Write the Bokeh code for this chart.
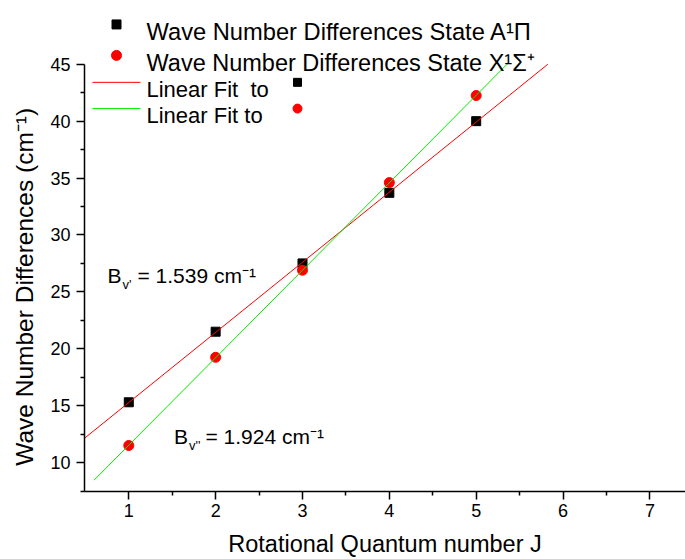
import numpy as np
from bokeh.plotting import figure
from bokeh.models import Range1d, FixedTicker, Label
from bokeh.embed import file_html
from bokeh.resources import INLINE

# ---- data ----
J = [1, 2, 3, 4, 5]
diff_A = [15.3, 21.5, 27.5, 33.7, 40.0]      # A1Pi state (black squares)
diff_X = [11.5, 19.25, 26.9, 34.6, 42.25]    # X1Sigma+ state (red circles)
x_ticks = [1, 2, 3, 4, 5, 6, 7]
y_ticks = [10, 15, 20, 25, 30, 35, 40, 45]

# ---- layout constants ----
W, H = 685, 559
OFF = 0
BL, BB, BT, BR = 84, 67, 0, 0
X0, X1 = 0.49, 7.41
Y0, Y1 = 7.46, 50.6
YAX_TOP = 45
FW, FH = W - BL - BR, H - BB - BT
SX = FW / (X1 - X0)
SY = FH / (Y1 - Y0)
FONT = "Liberation Sans"


def dx(px):  # page pixel -> data x
    return X0 + (px - OFF - BL) / SX


def dy(py):  # page pixel -> data y
    return Y1 - (py - OFF - BT) / SY


p = figure(width=W, height=H, x_range=Range1d(X0, X1), y_range=Range1d(Y0, Y1),
           output_backend="svg", toolbar_location=None,
           min_border_left=BL, min_border_bottom=BB, min_border_top=BT, min_border_right=BR)
p.outline_line_color = None
p.grid.visible = False
p.background_fill_color = "white"

for ax in (p.xaxis[0], p.yaxis[0]):
    ax.axis_line_color = "black"
    ax.axis_line_width = 1.5
    ax.major_tick_line_color = "black"
    ax.major_tick_line_width = 1.5
    ax.minor_tick_line_color = "black"
    ax.minor_tick_line_width = 1.5
    ax.major_tick_in = 0
    ax.major_tick_out = 8
    ax.minor_tick_in = 0
    ax.minor_tick_out = 4
    ax.major_label_text_font = FONT
    ax.major_label_text_font_size = "18px"
    ax.major_label_text_color = "black"
    ax.axis_label_text_font = FONT
    ax.axis_label_text_font_style = "normal"
    ax.axis_label_text_color = "black"

p.xaxis.axis_label_text_font_size = "23.5px"
p.yaxis.axis_label_text_font_size = "24.5px"
p.xaxis.ticker = FixedTicker(ticks=x_ticks, minor_ticks=[t + 0.5 for t in x_ticks[:-1]])
p.yaxis.ticker = FixedTicker(ticks=y_ticks, minor_ticks=[t - 2.5 for t in y_ticks])
p.yaxis.bounds = (Y0, YAX_TOP)
p.xaxis.major_label_standoff = 4
p.yaxis.major_label_standoff = 6
p.xaxis.axis_label_standoff = 11
p.yaxis.axis_label_standoff = 9
p.xaxis.axis_label = "Rotational Quantum number J"
# trailing no-break spaces shift the (frame-centred) title down to the middle of the drawn axis
p.yaxis.axis_label = "Wave Number Differences (cm\u207b\u00b9)" + "\u00a0" * 12

# ---- data marks ----
p.scatter(J, diff_A, marker="square", size=9, color="black")
p.scatter(J, diff_X, marker="circle", size=10, color="red")

# ---- linear fits (clipped at the axis top) ----
mA, bA = np.polyfit(J, diff_A, 1)
mX, bX = np.polyfit(J, diff_X, 1)
xa = [X0, (YAX_TOP - bA) / mA]
xx = [0.6, (YAX_TOP - bX) / mX]
p.line(xa, [mA * v + bA for v in xa], color="#ff0000", line_width=1)
p.line(xx, [mX * v + bX for v in xx], color="#00ee00", line_width=1)

# ---- legend ----
p.scatter([dx(116)], [dy(24)], marker="square", size=9, color="black")
p.scatter([dx(116)], [dy(55)], marker="circle", size=10, color="red")
p.line([dx(92), dx(140)], [dy(82), dy(82)], color="#ff0000", line_width=1)
p.line([dx(92), dx(140)], [dy(108.3), dy(108.3)], color="#00ee00", line_width=1)
p.scatter([dx(297)], [dy(82)], marker="square", size=8, color="black")
p.scatter([dx(297)], [dy(108.3)], marker="circle", size=9, color="red")

leg_texts = ["Wave Number Differences State A\u00b9\u03a0",
             "Wave Number Differences State X\u00b9\u03a3\u207a",
             "Linear Fit\u00a0 to",
             "Linear Fit to"]
leg_base = [31.7, 62.3, 89.3, 115.5]
leg_size = ["23.7px", "23.5px", "22px", "22px"]
for t, b, fs in zip(leg_texts, leg_base, leg_size):
    p.add_layout(Label(x=dx(146), y=dy(b), text=t, text_font=FONT, text_font_size=fs,
                       text_baseline="alphabetic", text_align="left", text_color="black"))

# ---- annotations ----
AFS = "21px"
SFS = "13px"


def annot(bx, base, sub, rest, restx):
    p.add_layout(Label(x=dx(bx), y=dy(base), text="B", text_font=FONT, text_font_size=AFS,
                       text_baseline="alphabetic", text_align="left", text_color="black"))
    p.add_layout(Label(x=dx(bx + 15), y=dy(base + 9), text=sub, text_font=FONT, text_font_size=SFS,
                       text_baseline="alphabetic", text_align="left", text_color="black"))
    p.add_layout(Label(x=dx(restx), y=dy(base), text=rest, text_font=FONT, text_font_size=AFS,
                       text_baseline="alphabetic", text_align="left", text_color="black"))


annot(107, 276, "v'", "= 1.539 cm\u207b\u00b9", 137)
annot(173.5, 436.7, "v''", "= 1.924 cm\u207b\u00b9", 205)

open("out.html", "w").write(file_html(p, INLINE))
